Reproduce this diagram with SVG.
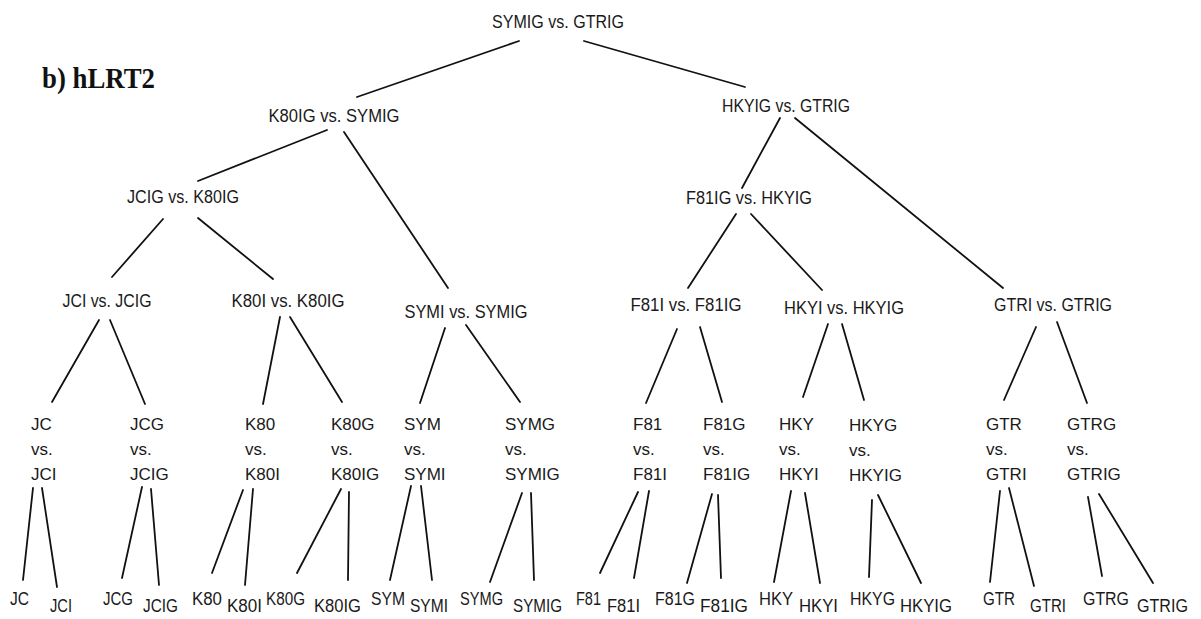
<svg xmlns="http://www.w3.org/2000/svg" width="1201" height="619" viewBox="0 0 1201 619">
  <style>
    .lbl { font-family: "Liberation Sans", Arial, sans-serif; font-size: 18px; fill: #1a1a1a; }
    .stk { font-family: "Liberation Sans", Arial, sans-serif; font-size: 17px; fill: #1a1a1a; }
    .mid { text-anchor: middle; }
    .head { font-family: "Liberation Serif", "Times New Roman", serif; font-size: 29px; font-weight: bold; fill: #111; }
    #connectors line { stroke: #111; stroke-width: 1.8; stroke-linecap: round; }
  </style>
  <rect width="1201" height="619" fill="#ffffff"/>

  <text class="head" x="42" y="88" textLength="113" lengthAdjust="spacingAndGlyphs">b) hLRT2</text>

  <!-- tree edges -->
  <g id="connectors">
    <line x1="519" y1="41" x2="357" y2="97"/>
    <line x1="584" y1="41" x2="745" y2="87"/>
    <line x1="327" y1="130" x2="198" y2="181"/>
    <line x1="344" y1="132" x2="448" y2="288"/>
    <line x1="780" y1="118" x2="742" y2="188"/>
    <line x1="795" y1="118" x2="1003" y2="288"/>
    <line x1="163" y1="219" x2="112" y2="277"/>
    <line x1="198" y1="218" x2="273" y2="279"/>
    <line x1="736" y1="214" x2="688" y2="288"/>
    <line x1="751" y1="214" x2="822" y2="290"/>
    <line x1="99" y1="320" x2="52" y2="402"/>
    <line x1="110" y1="320" x2="145" y2="404"/>
    <line x1="280" y1="317" x2="263" y2="404"/>
    <line x1="290" y1="317" x2="342" y2="402"/>
    <line x1="445" y1="328" x2="420" y2="403"/>
    <line x1="466" y1="325" x2="520" y2="402"/>
    <line x1="677" y1="329" x2="646" y2="403"/>
    <line x1="700" y1="327" x2="722" y2="402"/>
    <line x1="828" y1="324" x2="803" y2="397"/>
    <line x1="842" y1="324" x2="864" y2="400"/>
    <line x1="1036" y1="327" x2="1004" y2="400"/>
    <line x1="1057" y1="322" x2="1087" y2="403"/>
    <line x1="33" y1="488" x2="23" y2="580"/>
    <line x1="42" y1="488" x2="57" y2="587"/>
    <line x1="142" y1="487" x2="122" y2="578"/>
    <line x1="151" y1="489" x2="159" y2="585"/>
    <line x1="243" y1="490" x2="212" y2="573"/>
    <line x1="253" y1="489" x2="245" y2="585"/>
    <line x1="341" y1="489" x2="297" y2="573"/>
    <line x1="349" y1="492" x2="348" y2="580"/>
    <line x1="411" y1="486" x2="390" y2="580"/>
    <line x1="421" y1="486" x2="432" y2="580"/>
    <line x1="522" y1="493" x2="490" y2="582"/>
    <line x1="531" y1="493" x2="534" y2="580"/>
    <line x1="638" y1="492" x2="600" y2="573"/>
    <line x1="649" y1="491" x2="634" y2="578"/>
    <line x1="712" y1="494" x2="687" y2="583"/>
    <line x1="718" y1="495" x2="721" y2="578"/>
    <line x1="791" y1="491" x2="774" y2="582"/>
    <line x1="805" y1="493" x2="820" y2="583"/>
    <line x1="872" y1="500" x2="869" y2="577"/>
    <line x1="878" y1="495" x2="921" y2="583"/>
    <line x1="1000" y1="491" x2="990" y2="582"/>
    <line x1="1009" y1="488" x2="1034" y2="586"/>
    <line x1="1088" y1="497" x2="1102" y2="576"/>
    <line x1="1099" y1="494" x2="1153" y2="583"/>
  </g>

  <!-- comparison nodes -->
  <g id="n-root"><text class="lbl mid" x="558" y="28" textLength="132" lengthAdjust="spacingAndGlyphs">SYMIG vs. GTRIG</text></g>
  <g id="n-k80ig"><text class="lbl mid" x="334" y="122" textLength="131" lengthAdjust="spacingAndGlyphs">K80IG vs. SYMIG</text></g>
  <g id="n-hkyig"><text class="lbl mid" x="786" y="112" textLength="128" lengthAdjust="spacingAndGlyphs">HKYIG vs. GTRIG</text></g>
  <g id="n-jcig"><text class="lbl mid" x="183" y="203" textLength="112" lengthAdjust="spacingAndGlyphs">JCIG vs. K80IG</text></g>
  <g id="n-f81ig"><text class="lbl mid" x="749" y="204" textLength="126" lengthAdjust="spacingAndGlyphs">F81IG vs. HKYIG</text></g>
  <g id="n-jci"><text class="lbl mid" x="107" y="307" textLength="89" lengthAdjust="spacingAndGlyphs">JCI vs. JCIG</text></g>
  <g id="n-k80i"><text class="lbl mid" x="288" y="307" textLength="113" lengthAdjust="spacingAndGlyphs">K80I vs. K80IG</text></g>
  <g id="n-symi"><text class="lbl mid" x="466" y="318" textLength="123" lengthAdjust="spacingAndGlyphs">SYMI vs. SYMIG</text></g>
  <g id="n-f81i"><text class="lbl mid" x="686" y="311" textLength="111" lengthAdjust="spacingAndGlyphs">F81I vs. F81IG</text></g>
  <g id="n-hkyi"><text class="lbl mid" x="844" y="314" textLength="120" lengthAdjust="spacingAndGlyphs">HKYI vs. HKYIG</text></g>
  <g id="n-gtri"><text class="lbl mid" x="1053" y="311" textLength="118" lengthAdjust="spacingAndGlyphs">GTRI vs. GTRIG</text></g>

  <!-- stacked pairwise nodes -->
  <g id="s-jc"><text class="stk" x="31" y="430"><tspan x="31">JC</tspan><tspan x="31" dy="25">vs.</tspan><tspan x="31" dy="25">JCI</tspan></text></g>
  <g id="s-jcg"><text class="stk" x="130" y="430"><tspan x="130">JCG</tspan><tspan x="130" dy="25">vs.</tspan><tspan x="130" dy="25">JCIG</tspan></text></g>
  <g id="s-k80"><text class="stk" x="245" y="430"><tspan x="245">K80</tspan><tspan x="245" dy="25">vs.</tspan><tspan x="245" dy="25">K80I</tspan></text></g>
  <g id="s-k80g"><text class="stk" x="331" y="430"><tspan x="331">K80G</tspan><tspan x="331" dy="25">vs.</tspan><tspan x="331" dy="25">K80IG</tspan></text></g>
  <g id="s-sym"><text class="stk" x="404" y="430"><tspan x="404">SYM</tspan><tspan x="404" dy="25">vs.</tspan><tspan x="404" dy="25">SYMI</tspan></text></g>
  <g id="s-symg"><text class="stk" x="505" y="430"><tspan x="505">SYMG</tspan><tspan x="505" dy="25">vs.</tspan><tspan x="505" dy="25">SYMIG</tspan></text></g>
  <g id="s-f81"><text class="stk" x="633" y="430"><tspan x="633">F81</tspan><tspan x="633" dy="25">vs.</tspan><tspan x="633" dy="25">F81I</tspan></text></g>
  <g id="s-f81g"><text class="stk" x="703" y="430"><tspan x="703">F81G</tspan><tspan x="703" dy="25">vs.</tspan><tspan x="703" dy="25">F81IG</tspan></text></g>
  <g id="s-hky"><text class="stk" x="779" y="430"><tspan x="779">HKY</tspan><tspan x="779" dy="25">vs.</tspan><tspan x="779" dy="25">HKYI</tspan></text></g>
  <g id="s-hkyg"><text class="stk" x="849" y="431"><tspan x="849">HKYG</tspan><tspan x="849" dy="25">vs.</tspan><tspan x="849" dy="25">HKYIG</tspan></text></g>
  <g id="s-gtr"><text class="stk" x="986" y="430"><tspan x="986">GTR</tspan><tspan x="986" dy="25">vs.</tspan><tspan x="986" dy="25">GTRI</tspan></text></g>
  <g id="s-gtrg"><text class="stk" x="1067" y="430"><tspan x="1067">GTRG</tspan><tspan x="1067" dy="25">vs.</tspan><tspan x="1067" dy="25">GTRIG</tspan></text></g>

  <!-- leaf models -->
  <g id="l-jc"><text class="lbl" x="10" y="605" textLength="19" lengthAdjust="spacingAndGlyphs">JC</text></g>
  <g id="l-jci"><text class="lbl" x="50" y="612" textLength="22" lengthAdjust="spacingAndGlyphs">JCI</text></g>
  <g id="l-jcg"><text class="lbl" x="103" y="605" textLength="30" lengthAdjust="spacingAndGlyphs">JCG</text></g>
  <g id="l-jcig"><text class="lbl" x="143" y="612" textLength="35" lengthAdjust="spacingAndGlyphs">JCIG</text></g>
  <g id="l-k80"><text class="lbl" x="192" y="605" textLength="30" lengthAdjust="spacingAndGlyphs">K80</text></g>
  <g id="l-k80i"><text class="lbl" x="227" y="612" textLength="35" lengthAdjust="spacingAndGlyphs">K80I</text></g>
  <g id="l-k80g"><text class="lbl" x="266" y="605" textLength="39" lengthAdjust="spacingAndGlyphs">K80G</text></g>
  <g id="l-k80ig"><text class="lbl" x="314" y="612" textLength="47" lengthAdjust="spacingAndGlyphs">K80IG</text></g>
  <g id="l-sym"><text class="lbl" x="371" y="605" textLength="34" lengthAdjust="spacingAndGlyphs">SYM</text></g>
  <g id="l-symi"><text class="lbl" x="410" y="612" textLength="38" lengthAdjust="spacingAndGlyphs">SYMI</text></g>
  <g id="l-symg"><text class="lbl" x="460" y="605" textLength="43" lengthAdjust="spacingAndGlyphs">SYMG</text></g>
  <g id="l-symig"><text class="lbl" x="513" y="612" textLength="49" lengthAdjust="spacingAndGlyphs">SYMIG</text></g>
  <g id="l-f81"><text class="lbl" x="576" y="605" textLength="25" lengthAdjust="spacingAndGlyphs">F81</text></g>
  <g id="l-f81i"><text class="lbl" x="607" y="612" textLength="33" lengthAdjust="spacingAndGlyphs">F81I</text></g>
  <g id="l-f81g"><text class="lbl" x="655" y="605" textLength="40" lengthAdjust="spacingAndGlyphs">F81G</text></g>
  <g id="l-f81ig"><text class="lbl" x="700" y="612" textLength="48" lengthAdjust="spacingAndGlyphs">F81IG</text></g>
  <g id="l-hky"><text class="lbl" x="759" y="605" textLength="34" lengthAdjust="spacingAndGlyphs">HKY</text></g>
  <g id="l-hkyi"><text class="lbl" x="799" y="612" textLength="39" lengthAdjust="spacingAndGlyphs">HKYI</text></g>
  <g id="l-hkyg"><text class="lbl" x="850" y="605" textLength="45" lengthAdjust="spacingAndGlyphs">HKYG</text></g>
  <g id="l-hkyig"><text class="lbl" x="900" y="612" textLength="52" lengthAdjust="spacingAndGlyphs">HKYIG</text></g>
  <g id="l-gtr"><text class="lbl" x="983" y="605" textLength="32" lengthAdjust="spacingAndGlyphs">GTR</text></g>
  <g id="l-gtri"><text class="lbl" x="1030" y="612" textLength="36" lengthAdjust="spacingAndGlyphs">GTRI</text></g>
  <g id="l-gtrg"><text class="lbl" x="1083" y="605" textLength="46" lengthAdjust="spacingAndGlyphs">GTRG</text></g>
  <g id="l-gtrig"><text class="lbl" x="1137" y="612" textLength="51" lengthAdjust="spacingAndGlyphs">GTRIG</text></g>
</svg>
